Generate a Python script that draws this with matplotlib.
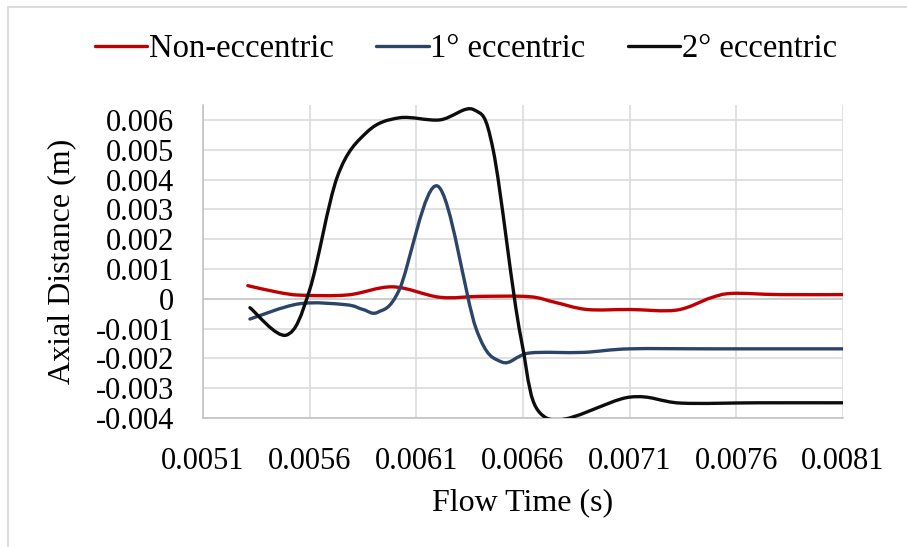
import numpy as np
import matplotlib
matplotlib.use("Agg")
import matplotlib.pyplot as plt
from matplotlib.path import Path
from matplotlib.patches import PathPatch, Rectangle
from matplotlib.lines import Line2D

# values
non_ecc_t = [0.00531, 0.00545, 0.00556, 0.00578, 0.00599, 0.00621, 0.00640,
             0.00663, 0.00675, 0.00690, 0.00710, 0.00732, 0.00748, 0.00758,
             0.00780, 0.00810]
non_ecc_d = [0.00044, 0.00022, 0.00012, 0.00013, 0.00040, 0.00005, 0.00008,
             0.00007, -0.00012, -0.00036, -0.00036, -0.00038, 0.00003, 0.00018,
             0.00014, 0.00014]

ecc1_t = [0.00532, 0.00555, 0.00577, 0.00585, 0.00592, 0.00602, 0.00620,
          0.00638, 0.00650, 0.00663, 0.00688, 0.00710, 0.00750, 0.00810]
ecc1_d = [-0.00068, -0.00017, -0.00020, -0.00036, -0.00045, 0.00030, 0.00378,
          -0.00100, -0.00212, -0.00182, -0.00180, -0.00168, -0.00168, -0.00168]

ecc2_t = [0.00532, 0.00549, 0.00560, 0.00573, 0.00587, 0.00602, 0.00621,
          0.00637, 0.00646, 0.00659, 0.00671, 0.00710, 0.00734,
          0.00770, 0.00810]
ecc2_d = [-0.00030, -0.00122, 0.00030, 0.00410, 0.00560, 0.00607, 0.00600,
          0.00634, 0.00500, -0.00130, -0.00400, -0.00330, -0.00350,
          -0.00349, -0.00349]

series_names = ["Non-eccentric", "1\u00b0 eccentric", "2\u00b0 eccentric"]
series_colors = ["#C00000", "#2B4468", "#0D0D0D"]

x_ticks = [0.0051, 0.0056, 0.0061, 0.0066, 0.0071, 0.0076, 0.0081]
x_labels = ["0.0051", "0.0056", "0.0061", "0.0066", "0.0071", "0.0076", "0.0081"]
y_ticks = [-0.004, -0.003, -0.002, -0.001, 0, 0.001, 0.002, 0.003, 0.004, 0.005, 0.006]
y_labels = ["-0.004", "-0.003", "-0.002", "-0.001", "0", "0.001", "0.002",
            "0.003", "0.004", "0.005", "0.006"]

plt.rcParams["font.family"] = ["Liberation Serif", "DejaVu Serif"]


def smooth_path(xs, ys):
    # Excel-like smoothed line: bezier segments with catmull-rom control points
    pts = np.column_stack([xs, ys])
    n = len(pts)
    verts = [pts[0]]
    codes = [Path.MOVETO]
    for i in range(n - 1):
        p0 = pts[i - 1] if i > 0 else pts[i]
        p1 = pts[i]
        p2 = pts[i + 1]
        p3 = pts[i + 2] if i + 2 < n else pts[i + 1]
        c1 = p1 + (p2 - p0) / 6.0
        c2 = p2 - (p3 - p1) / 6.0
        verts += [c1, c2, p2]
        codes += [Path.CURVE4] * 3
    return Path(verts, codes)


fig = plt.figure(figsize=(9.07, 5.47), dpi=100)
ax = fig.add_axes([203 / 907, 129 / 547, 640 / 907, 313 / 547])

ax.set_xlim(0.0051, 0.0081)
ax.set_ylim(-0.004, 0.0065)
ax.set_xticks(x_ticks)
ax.set_xticklabels(x_labels)
ax.set_yticks(y_ticks)
ax.set_yticklabels(y_labels)
ax.tick_params(length=0, labelsize=22, colors="black")
ax.tick_params(axis="y", pad=21)
ax.tick_params(axis="x", pad=21)
ax.grid(True, color="#D9D9D9", linewidth=1.1)
ax.set_axisbelow(True)
ax.axhline(0, color="#C8C8C8", linewidth=1.1, zorder=1)
for side in ["top", "right"]:
    ax.spines[side].set_visible(False)
for side in ["left", "bottom"]:
    ax.spines[side].set_color("#BFBFBF")
    ax.spines[side].set_linewidth(1.1)

all_t = [non_ecc_t, ecc1_t, ecc2_t]
all_d = [non_ecc_d, ecc1_d, ecc2_d]
handles = []
for t, d, name, col in zip(all_t, all_d, series_names, series_colors):
    patch = PathPatch(smooth_path(t, d), facecolor="none", edgecolor=col,
                      linewidth=2.4, capstyle="round", joinstyle="round",
                      transform=ax.transData, zorder=3)
    ax.add_patch(patch)
    handles.append(Line2D([], [], color=col, linewidth=2.4, solid_capstyle="round"))

ax.set_xlabel("Flow Time (s)", fontsize=23, labelpad=9)
ax.set_ylabel("Axial Distance (m)", fontsize=23, labelpad=14)

fig.legend(handles, series_names, loc="center", bbox_to_anchor=(466 / 907, 1 - 49 / 547),
           ncol=3, frameon=False, fontsize=23.5, handlelength=1.6, handletextpad=0.05,
           columnspacing=1.3)

fig.patches.append(Rectangle((8 / 907, -0.1), 1.1, 1 - 7 / 547 + 0.1,
                             transform=fig.transFigure, fill=False,
                             edgecolor="#D9D9D9", linewidth=1.3))

fig.savefig("out.png", dpi=100)
